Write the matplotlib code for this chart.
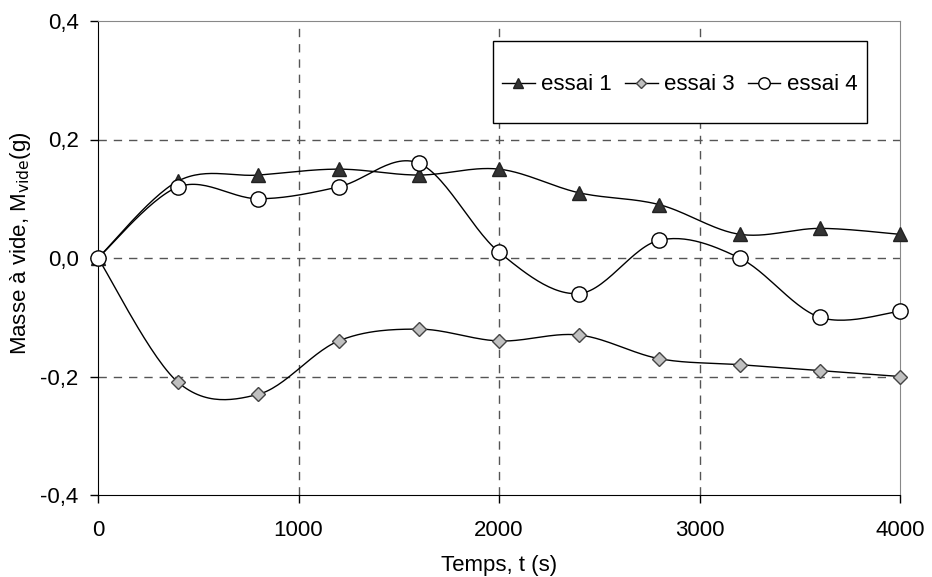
import numpy as np
import matplotlib
matplotlib.use('Agg')
from matplotlib import pyplot as plt
from matplotlib.patches import Rectangle

plt.rcParams['font.family'] = ['Liberation Sans', 'DejaVu Sans']

# temps (s)
temps = [0, 400, 800, 1200, 1600, 2000, 2400, 2800, 3200, 3600, 4000]
essai1 = [0.0, 0.13, 0.14, 0.15, 0.14, 0.15, 0.11, 0.09, 0.04, 0.05, 0.04]
essai3 = [0.0, -0.21, -0.23, -0.14, -0.12, -0.14, -0.13, -0.17, -0.18, -0.19, -0.20]
essai4 = [0.0, 0.12, 0.10, 0.12, 0.16, 0.01, -0.06, 0.03, 0.00, -0.10, -0.09]
labels = ["essai 1", "essai 3", "essai 4"]


def smooth(x, y, n=30):
    # courbe lissee type Excel (Catmull-Rom / Bezier)
    x = np.asarray(x, float)
    y = np.asarray(y, float)
    px = np.concatenate([[x[0]], x, [x[-1]]])
    py = np.concatenate([[y[0]], y, [y[-1]]])
    xs, ys = [], []
    t = np.linspace(0, 1, n)
    for i in range(1, len(px) - 2):
        p0 = np.array([px[i], py[i]])
        p3 = np.array([px[i + 1], py[i + 1]])
        p1 = p0 + (np.array([px[i + 1], py[i + 1]]) - np.array([px[i - 1], py[i - 1]])) / 6
        p2 = p3 - (np.array([px[i + 2], py[i + 2]]) - np.array([px[i], py[i]])) / 6
        b = ((1 - t) ** 3)[:, None] * p0 + (3 * (1 - t) ** 2 * t)[:, None] * p1 \
            + (3 * (1 - t) * t ** 2)[:, None] * p2 + (t ** 3)[:, None] * p3
        xs.extend(b[:, 0])
        ys.extend(b[:, 1])
    return xs, ys


fig = plt.figure(figsize=(9.32, 5.77), dpi=100)
ax = fig.add_axes([98 / 932, 82 / 577, 802 / 932, 474 / 577])

styles = [
    dict(marker='^', mfc='#333333', mec='#222222', ms=10),
    dict(marker='D', mfc='#c0c0c0', mec='#444444', ms=7),
    dict(marker='o', mfc='white', mec='black', ms=11),
]
for ys, lab, st in zip([essai1, essai3, essai4], labels, styles):
    sx, sy = smooth(temps, ys)
    ax.plot(sx, sy, color='black', lw=1, zorder=2)
    ax.plot(temps, ys, ls='none', mew=1, zorder=3, clip_on=False, **st)
    ax.plot([], [], color='black', lw=1, label=lab, mew=1, **st)

ax.set_xlim(0, 4000)
ax.set_ylim(-0.4, 0.4)
ax.set_xticks([0, 1000, 2000, 3000, 4000])
ax.set_yticks([-0.4, -0.2, 0.0, 0.2, 0.4])
ax.set_yticklabels(['-0,4', '-0,2', '0,0', '0,2', '0,4'])
ax.tick_params(labelsize=16, direction='out', length=6, width=1, color='black')
ax.tick_params(axis='x', pad=12)
ax.tick_params(axis='y', pad=8)

for v in [1000, 2000, 3000]:
    ax.axvline(v, color='#555555', lw=1, ls=(0, (6, 5)), zorder=1)
for v in [-0.2, 0.0, 0.2]:
    ax.axhline(v, color='#555555', lw=1, ls=(0, (6, 5)), zorder=1)

ax.spines['left'].set_color('black')
ax.spines['bottom'].set_color('black')
ax.spines['top'].set_color('#888888')
ax.spines['right'].set_color('#888888')

ax.set_xlabel('Temps, t (s)', fontsize=16, labelpad=10)
ax.set_ylabel('Masse à vide, M$_{\\mathrm{vide}}$(g)', fontsize=16)
ax.yaxis.set_label_coords(-0.081, 0.532)

# cadre de la legende
ax.add_patch(Rectangle((395 / 802, 372 / 474), 374 / 802, 82 / 474, transform=ax.transAxes,
                       facecolor='white', edgecolor='black', lw=1, zorder=4))
leg = ax.legend(loc='center', bbox_to_anchor=(582 / 802, 410 / 474), ncol=3,
                fontsize=16, frameon=False, handlelength=1.45, markerscale=0.75,
                handletextpad=0.3, columnspacing=0.6, borderpad=0, borderaxespad=0)
leg.set_zorder(5)

plt.savefig('out.png', dpi=100)
